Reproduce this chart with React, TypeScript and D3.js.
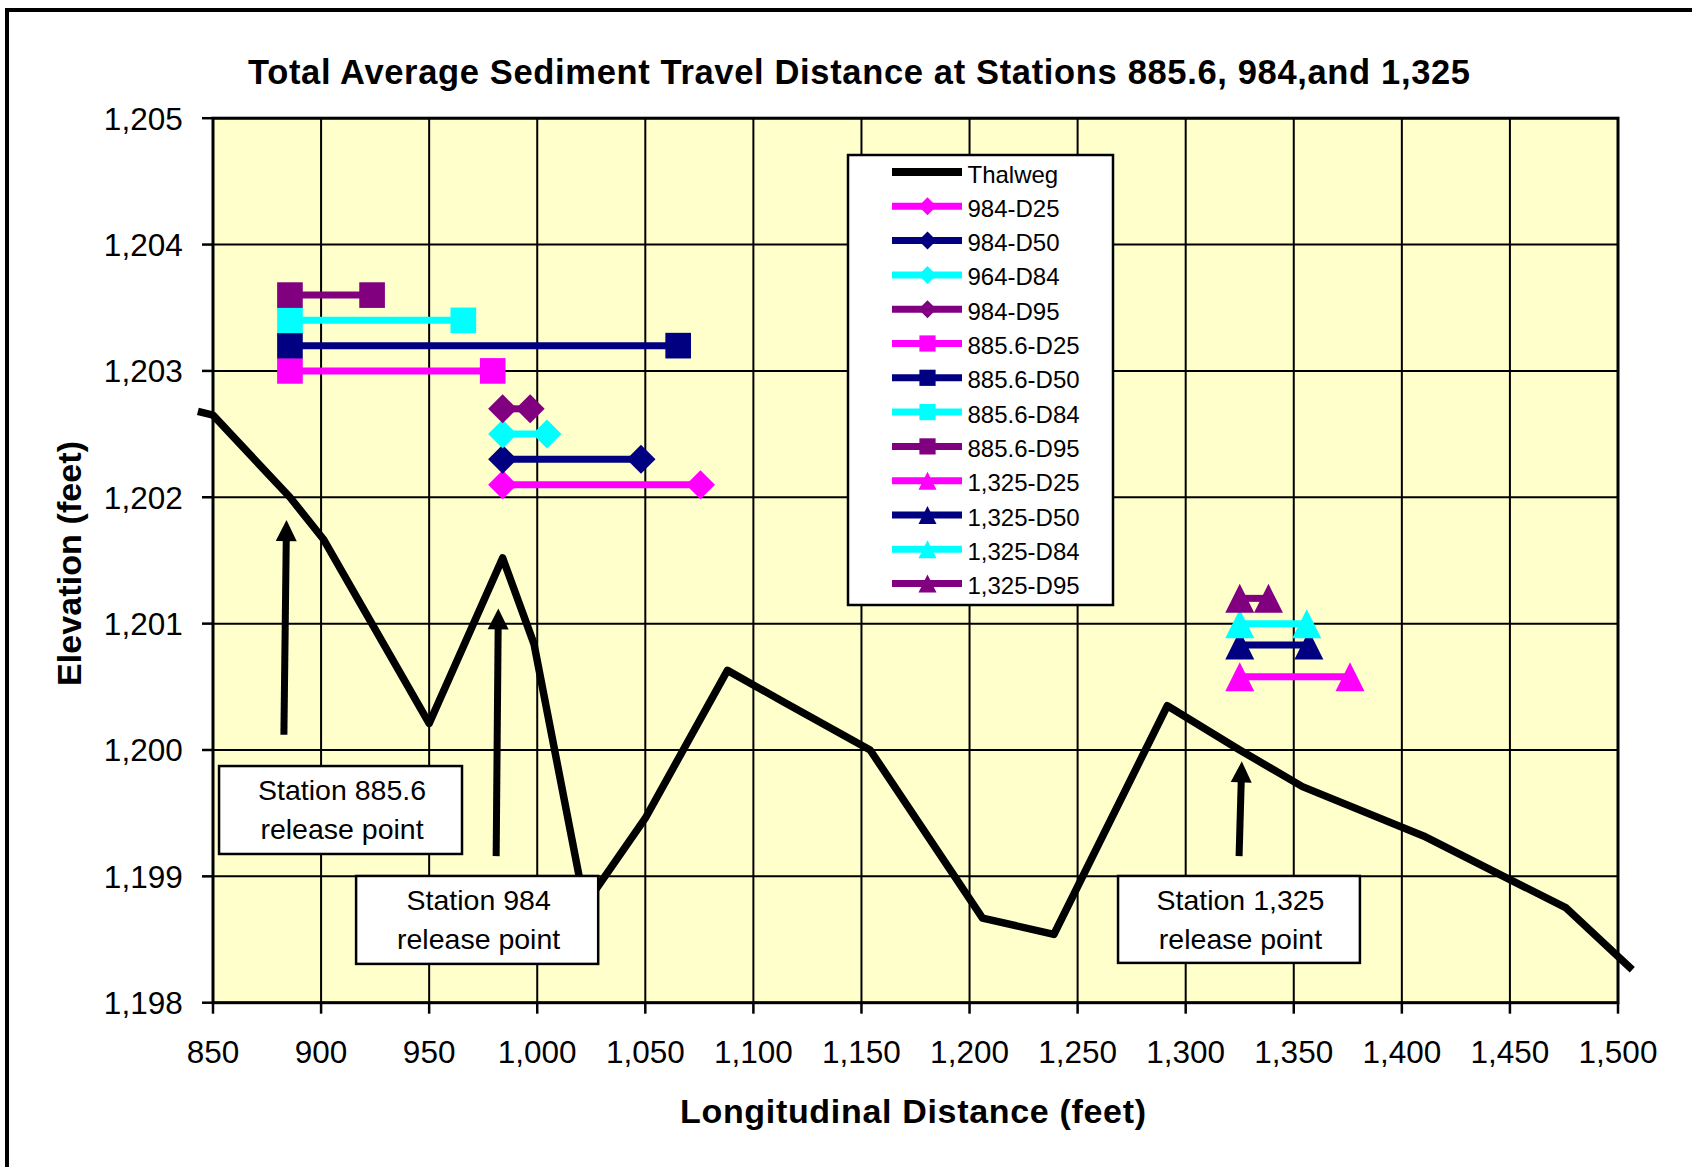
import React from 'react';
import * as d3 from 'd3';

// ---------- data ----------
const thalwegX = [843, 850, 885.6, 901, 950, 984, 998.5, 1022, 1050, 1088, 1114, 1154, 1206, 1239, 1291.5, 1325, 1354, 1410, 1476, 1506.6];
const thalwegY = [1202.68, 1202.65, 1202.0, 1201.67, 1200.21, 1201.52, 1200.84, 1198.77, 1199.46, 1200.63, 1200.38, 1200.0, 1198.67, 1198.54, 1200.35, 1200.0, 1199.71, 1199.32, 1198.75, 1198.26];

const seriesNames = ['984-D25', '984-D50', '964-D84', '984-D95', '885.6-D25', '885.6-D50', '885.6-D84', '885.6-D95', '1,325-D25', '1,325-D50', '1,325-D84', '1,325-D95'];
const seriesStart = [984, 984, 984, 984, 885.6, 885.6, 885.6, 885.6, 1325, 1325, 1325, 1325];
const seriesEnd = [1075.5, 1048, 1004.5, 996.7, 979.4, 1065.2, 965.8, 923.6, 1376, 1357, 1356, 1338.3];
const seriesElev = [1202.1, 1202.3, 1202.5, 1202.7, 1203.0, 1203.2, 1203.4, 1203.6, 1200.58, 1200.83, 1201.0, 1201.2];
const seriesColors = ['#FF00FF', '#000080', '#00FFFF', '#800080', '#FF00FF', '#000080', '#00FFFF', '#800080', '#FF00FF', '#000080', '#00FFFF', '#800080'];
const seriesShapes = ['diamond', 'diamond', 'diamond', 'diamond', 'square', 'square', 'square', 'square', 'triangle', 'triangle', 'triangle', 'triangle'];

const xTicks = d3.range(850, 1501, 50);
const yTicks = d3.range(1198, 1206, 1);

const titleText = 'Total Average Sediment Travel Distance at Stations 885.6, 984,and 1,325';
const xTitle = 'Longitudinal Distance (feet)';
const yTitle = 'Elevation (feet)';

// annotation boxes (data units) and arrows (data units)
const boxLines = [['Station 885.6', 'release point'], ['Station 984', 'release point'], ['Station 1,325', 'release point']];
const boxX0 = [852.8, 916.2, 1268.7];
const boxX1 = [965.2, 1028.2, 1380.6];
const boxTop = [1199.873, 1199.003, 1199.003];
const boxBottom = [1199.177, 1198.307, 1198.315];
const arrowX0 = [882.8, 981.0, 1324.7];
const arrowY0 = [1200.12, 1199.16, 1199.16];
const arrowX1 = [884.0, 982.0, 1325.96];
const arrowY1 = [1201.82, 1201.12, 1199.91];

// ---------- layout ----------
const W = 1692, H = 1167;
const plotL = 213, plotR = 1618, plotT = 118.2, plotB = 1002.7;
const FONT = '"Liberation Sans", Arial, Helvetica, sans-serif';

function markerPath(shape: string, cx: number, cy: number, s: number) {
  const h = s / 2;
  if (shape === 'square') {
    const q = s * 0.9 / 2;
    return `M${cx - q},${cy - q}H${cx + q}V${cy + q}H${cx - q}Z`;
  }
  if (shape === 'diamond') {
    return `M${cx},${cy - h}L${cx + h},${cy}L${cx},${cy + h}L${cx - h},${cy}Z`;
  }
  return `M${cx},${cy - h}L${cx + h},${cy + h}L${cx - h},${cy + h}Z`;
}

export default function App() {
  const x = d3.scaleLinear().domain([850, 1500]).range([plotL, plotR]);
  const y = d3.scaleLinear().domain([1198, 1205]).range([plotB, plotT]);
  const fmt = d3.format(',');

  const thalwegLine = d3.line<number>()
    .x((_, i) => x(thalwegX[i]))
    .y((_, i) => y(thalwegY[i]));

  const legendItems = ['Thalweg', ...seriesNames];
  const legX0 = 848, legY0 = 155, legW = 265, legH = 450;
  const rowY0 = 172, rowStep = 34.3;

  return (
    <svg width={W} height={H} style={{ position: 'absolute', left: 0, top: 0, background: '#fff' }} fontFamily={FONT}>
      {/* outer chart border */}
      <rect x={7} y={10} width={W + 20} height={H + 20} fill="#fff" stroke="#000" strokeWidth={4} />

      {/* title */}
      <text x={859} y={84} textAnchor="middle" fontSize={34.5} fontWeight="bold" textLength={1222} lengthAdjust="spacing">{titleText}</text>

      {/* plot area */}
      <rect x={plotL} y={plotT} width={plotR - plotL} height={plotB - plotT} fill="#FFFFCC" />
      {xTicks.map(t => (
        <line key={'gx' + t} x1={x(t)} x2={x(t)} y1={plotT} y2={plotB} stroke="#000" strokeWidth={2} />
      ))}
      {yTicks.map(t => (
        <line key={'gy' + t} x1={plotL} x2={plotR} y1={y(t)} y2={y(t)} stroke="#000" strokeWidth={2} />
      ))}
      <rect x={plotL} y={plotT} width={plotR - plotL} height={plotB - plotT} fill="none" stroke="#000" strokeWidth={3} />

      {/* ticks + labels */}
      {yTicks.map(t => (
        <g key={'ty' + t}>
          <line x1={plotL - 11} x2={plotL} y1={y(t)} y2={y(t)} stroke="#000" strokeWidth={2.5} />
          <text x={182.7} y={y(t) + 11.3} textAnchor="end" fontSize={31.5}>{fmt(t)}</text>
        </g>
      ))}
      {xTicks.map(t => (
        <g key={'tx' + t}>
          <line x1={x(t)} x2={x(t)} y1={plotB} y2={plotB + 11} stroke="#000" strokeWidth={2.5} />
          <text x={x(t)} y={1063} textAnchor="middle" fontSize={31.5}>{fmt(t)}</text>
        </g>
      ))}

      {/* axis titles */}
      <text x={913} y={1123} textAnchor="middle" fontSize={34} fontWeight="bold" textLength={466} lengthAdjust="spacing">{xTitle}</text>
      <text transform={`translate(81,${(plotT + plotB) / 2 + 3}) rotate(-90)`} textAnchor="middle" fontSize={34} fontWeight="bold" textLength={245} lengthAdjust="spacing">{yTitle}</text>

      {/* thalweg */}
      <path d={thalwegLine(thalwegX) || ''} fill="none" stroke="#000" strokeWidth={7.5} strokeLinejoin="round" strokeLinecap="butt" />

      {/* travel distance series */}
      {seriesNames.map((n, i) => {
        const yy = y(seriesElev[i]);
        const xa = x(seriesStart[i]);
        const xb = x(seriesEnd[i]);
        const sz = seriesShapes[i] === 'square' ? 28.5 : 29;
        return (
          <g key={n}>
            <line x1={xa} x2={xb} y1={yy} y2={yy} stroke={seriesColors[i]} strokeWidth={7} />
            <path d={markerPath(seriesShapes[i], xa, yy, sz)} fill={seriesColors[i]} />
            <path d={markerPath(seriesShapes[i], xb, yy, sz)} fill={seriesColors[i]} />
          </g>
        );
      })}

      {/* legend */}
      <rect x={legX0} y={legY0} width={legW} height={legH} fill="#fff" stroke="#000" strokeWidth={2.5} />
      {legendItems.map((n, i) => {
        const ry = rowY0 + i * rowStep;
        const col = i === 0 ? '#000' : seriesColors[i - 1];
        return (
          <g key={'leg' + n}>
            <line x1={892} x2={962} y1={ry} y2={ry} stroke={col} strokeWidth={i === 0 ? 8 : 7} />
            {i > 0 && <path d={markerPath(seriesShapes[i - 1], 927.5, ry, 18)} fill={col} />}
            <text x={967.5} y={ry + 10.5} fontSize={24}>{n}</text>
          </g>
        );
      })}

      {/* arrows */}
      {arrowX0.map((ax, i) => {
        const x0 = x(ax), y0 = y(arrowY0[i]), x1 = x(arrowX1[i]), y1 = y(arrowY1[i]);
        const ang = Math.atan2(y1 - y0, x1 - x0);
        const len = 21, hw = 10.5;
        const bx = x1 - len * Math.cos(ang), by = y1 - len * Math.sin(ang);
        const px = -Math.sin(ang) * hw, py = Math.cos(ang) * hw;
        return (
          <g key={'ar' + i}>
            <line x1={x0} y1={y0} x2={bx + Math.cos(ang) * 2} y2={by + Math.sin(ang) * 2} stroke="#000" strokeWidth={7} />
            <path d={`M${x1},${y1}L${bx + px},${by + py}L${bx - px},${by - py}Z`} fill="#000" />
          </g>
        );
      })}

      {/* annotation boxes */}
      {boxLines.map((lines, i) => {
        const bx0 = x(boxX0[i]), bx1 = x(boxX1[i]);
        const by0 = y(boxTop[i]), by1 = y(boxBottom[i]);
        const cx = (bx0 + bx1) / 2;
        return (
          <g key={'box' + i}>
            <rect x={bx0} y={by0} width={bx1 - bx0} height={by1 - by0} fill="#fff" stroke="#000" strokeWidth={2.5} />
            <text x={cx + 1.5} y={by0 + 34} textAnchor="middle" fontSize={28.5}>{lines[0]}</text>
            <text x={cx + 1.5} y={by0 + 73} textAnchor="middle" fontSize={28.5}>{lines[1]}</text>
          </g>
        );
      })}
    </svg>
  );
}
